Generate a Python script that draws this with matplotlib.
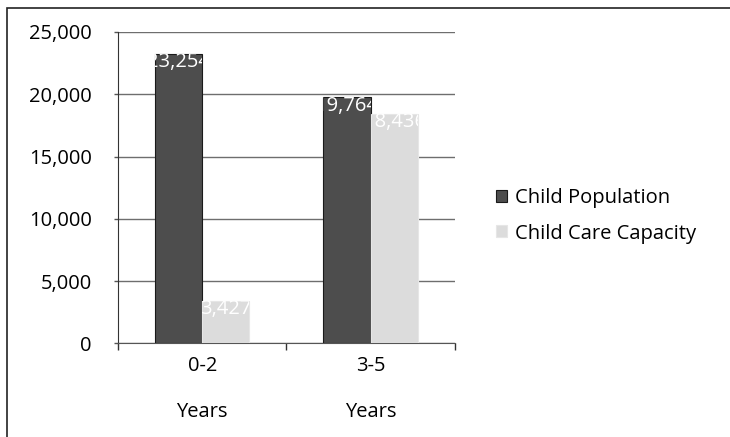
import numpy as np
import matplotlib.pyplot as plt
from matplotlib.patches import Rectangle
from matplotlib.ticker import FuncFormatter

# %% Data
categories = ['0-2\nYears', '3-5\nYears']
population = [23254, 19764]
capacity = [3427, 18436]
series_names = ['Child Population', 'Child Care Capacity']

plt.rcParams['font.family'] = ['Open Sans', 'DejaVu Sans']
fs = 14.5

# %% Figure and axes
fig = plt.figure(figsize=(7.3, 4.37), dpi=100)
ax = fig.add_axes([0.1616, 0.2144, 0.4615, 0.7124])

x = np.arange(len(categories))
w = 0.28
bars_pop = ax.bar(x - w / 2, population, w, color='#4d4d4d', edgecolor='#1a1a1a',
                  linewidth=0.8, label=series_names[0], zorder=3)
bars_cap = ax.bar(x + w / 2, capacity, w, color='#dcdcdc', edgecolor='#e6e6e6',
                  linewidth=0.8, label=series_names[1], zorder=3)

# Data labels, white, inside end, clipped to the bar
for bars in (bars_pop, bars_cap):
    for b in bars:
        t = ax.annotate(f'{b.get_height():,.0f}',
                        (b.get_x() + b.get_width() / 2, b.get_height()),
                        xytext=(0, 1), textcoords='offset points',
                        ha='center', va='top', color='white', fontsize=fs,
                        zorder=4)
        t.set_clip_path(b)

# %% Axes styling
ax.set_xlim(-0.5, 1.5)
ax.set_ylim(0, 25000)
ax.set_yticks(np.arange(0, 25001, 5000))
ax.yaxis.set_major_formatter(FuncFormatter(lambda v, p: f'{v:,.0f}'))
ax.grid(axis='y', color='#6e6e6e', linewidth=1.0, zorder=0)

ax.set_xticks([-0.5, 0.5, 1.5])
ax.set_xticklabels([])
ax.set_xticks(x, minor=True)
ax.set_xticklabels(categories, minor=True, linespacing=2.75)
ax.tick_params(axis='x', which='minor', length=0, pad=9, labelsize=fs)
ax.tick_params(axis='x', which='major', length=5, width=1, color='#333333')
ax.tick_params(axis='y', length=3, width=1, color='#555555', pad=16,
               labelsize=fs)

for s in ('top', 'right'):
    ax.spines[s].set_visible(False)
ax.spines['left'].set_color('#333333')
ax.spines['bottom'].set_color('#555555')

fig.legend(handles=[bars_pop, bars_cap], loc='center left',
           bbox_to_anchor=(478 / 730, 1 - 216 / 437), frameon=False,
           fontsize=fs, handlelength=0.55, handleheight=0.55,
           handletextpad=0.4, labelspacing=0.75)

# Chart border (only top and left edges fall inside the picture)
fig.patches.append(Rectangle((7 / 730, -0.1), 1.2, 1 - 8 / 437 + 0.1,
                             transform=fig.transFigure, fill=False,
                             edgecolor='#222222', linewidth=1.2))

fig.savefig('out.png', dpi=100)
